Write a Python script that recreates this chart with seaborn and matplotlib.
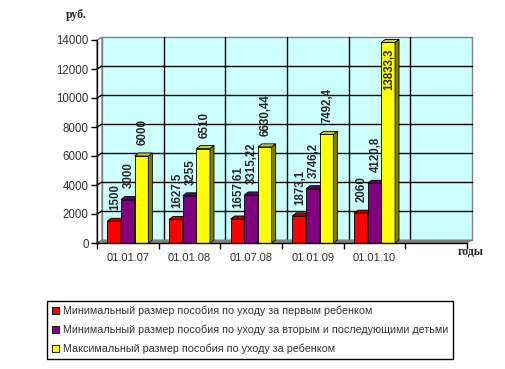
import numpy as np
import pandas as pd
import matplotlib
matplotlib.use("Agg")
import matplotlib.pyplot as plt
from matplotlib.patches import Polygon, Rectangle, Patch
import seaborn as sns

# values
dates = ["01.01.07", "01.01.08", "01.07.08", "01.01.09", "01.01.10"]
series_names = [
    "Минимальный размер пособия по уходу за первым ребенком",
    "Минимальный размер пособия по уходу за вторым и последующими детьми",
    "Максимальный размер пособия по уходу за ребенком",
]
first_child = [1500, 1627.5, 1657.61, 1873.1, 2060]
next_children = [3000, 3255, 3315.22, 3746.2, 4120.8]
max_benefit = [6000, 6510, 6630.44, 7492.4, 13833.3]
y_ticks = [0, 2000, 4000, 6000, 8000, 10000, 12000, 14000]

front_colors = ["#FF0000", "#800080", "#FFFF00"]
side_colors = ["#800000", "#400040", "#808000"]
top_colors = ["#C00000", "#600060", "#CCCC33"]

df = pd.DataFrame({
    "date": dates * 3,
    "series": [series_names[0]] * 5 + [series_names[1]] * 5 + [series_names[2]] * 5,
    "value": first_child + next_children + max_benefit,
})

sns.set_style("white")
plt.rcParams["font.family"] = ["Liberation Sans", "DejaVu Sans"]

W, H = 505, 369
fig = plt.figure(figsize=(W / 100, H / 100), dpi=100)
ax = fig.add_axes([97 / W, 1 - 243 / H, 370 / W, 203 / H])

sns.barplot(data=df, x="date", y="value", hue="series", order=dates,
            hue_order=series_names, palette=front_colors, width=0.665,
            saturation=1, edgecolor="black", linewidth=0.6, errorbar=None,
            legend=False, ax=ax)

ax.set_xlim(-0.5, 5.5)
ax.set_ylim(0, 14000)
ax.set_facecolor("none")
ax.set_xlabel("")
ax.set_ylabel("")

# pixel -> data units
bb = ax.get_position()
ux = 6 / (bb.width * W)
uy = 14000 / (bb.height * H)
wx, wy = 5 * ux, 3 * uy   # wall depth
bx, by = 4 * ux, 3 * uy   # bar depth

# back wall, side wall and floor
ax.add_patch(Rectangle((-0.5 + wx, wy), 6, 14000, fc="#CCFFFF", ec="#808080",
                       lw=1, zorder=0, clip_on=False))
ax.add_patch(Polygon([(-0.5, 0), (-0.5 + wx, wy), (-0.5 + wx, 14000 + wy), (-0.5, 14000)],
                     closed=True, fc="white", ec="#808080", lw=1, zorder=0.1, clip_on=False))
ax.add_patch(Polygon([(-0.5, 0), (5.5, 0), (5.5 + wx, wy), (-0.5 + wx, wy)],
                     closed=True, fc="#808080", ec="#808080", lw=0.6, zorder=0.6, clip_on=False))
for y in y_ticks[1:-1]:
    ax.plot([-0.5 + wx, 5.5 + wx], [y + wy, y + wy], color="black", lw=1, zorder=0.5, clip_on=False)
    ax.plot([-0.5, -0.5 + wx], [y, y + wy], color="black", lw=1, zorder=0.5, clip_on=False)
for x in np.arange(0.5, 5, 1):
    ax.plot([x + wx, x + wx], [wy, 14000 + wy], color="black", lw=1, zorder=0.5, clip_on=False)

# 3D faces and value labels
for j, cont in enumerate(ax.containers):
    for p in cont.patches:
        x0, w, h = p.get_x(), p.get_width(), p.get_height()
        z = 3 + j * 0.1
        p.set_zorder(z)
        ax.add_patch(Polygon([(x0 + w, 0), (x0 + w + bx, by), (x0 + w + bx, h + by), (x0 + w, h)],
                             closed=True, fc=side_colors[j], ec="black", lw=0.6,
                             zorder=z + 0.05, clip_on=False))
        ax.add_patch(Polygon([(x0, h), (x0 + w, h), (x0 + w + bx, h + by), (x0 + bx, h + by)],
                             closed=True, fc=top_colors[j], ec="black", lw=0.6,
                             zorder=z + 0.05, clip_on=False))
        lbl = f"{h:g}".replace(".", ",")
        if h > 12000:
            ax.text(x0 + w / 2 + 1 * ux, h - 6 * uy, lbl, rotation=90, ha="center", va="top",
                    fontsize=8.3, fontweight="bold", zorder=8)
        else:
            ax.text(x0 + w / 2 + 1 * ux, h + 11 * uy, lbl, rotation=90, ha="center", va="bottom",
                    fontsize=8.3, fontweight="bold", zorder=8)

# axes styling
for s in ["top", "right"]:
    ax.spines[s].set_visible(False)
for s in ["left", "bottom"]:
    ax.spines[s].set_color("black")
    ax.spines[s].set_linewidth(1)
    ax.spines[s].set_zorder(9)
ax.set_yticks(y_ticks)
ax.set_yticklabels([str(v) for v in y_ticks])
ax.tick_params(axis="y", direction="out", length=4, width=1, color="black",
               labelsize=8.3, labelcolor="#333333", pad=2, left=True)
ax.set_xticks(np.arange(-0.5, 6, 1))
ax.set_xticklabels([])
ax.tick_params(axis="x", which="major", direction="out", length=4, width=1,
               color="black", bottom=True)
ax.set_xticks(range(len(dates)), minor=True)
ax.set_xticklabels(dates, minor=True)
ax.tick_params(axis="x", which="minor", length=0, pad=7, labelsize=8,
               labelcolor="#333333")

fig.text(66 / W, 1 - 15 / H, "руб.", family="Liberation Serif", fontweight="bold",
         fontsize=8.5, va="center")
fig.text(458 / W, 1 - 252 / H, "годы", family="Liberation Serif", fontweight="bold",
         fontsize=8.5, va="center")

handles = [Patch(fc=c, ec="black", lw=0.6) for c in front_colors]
leg = fig.legend(handles, series_names, loc="upper left",
                 bbox_to_anchor=(47 / W, 1 - 301 / H), frameon=True, fancybox=False,
                 edgecolor="black", framealpha=1, fontsize=7.75, handlelength=0.7,
                 handleheight=0.7, handletextpad=0.35, labelspacing=0.8,
                 borderpad=0.45, borderaxespad=0)
leg.get_frame().set_linewidth(1)
for t in leg.get_texts():
    t.set_color("#333333")

fig.savefig("out.png", dpi=100)
